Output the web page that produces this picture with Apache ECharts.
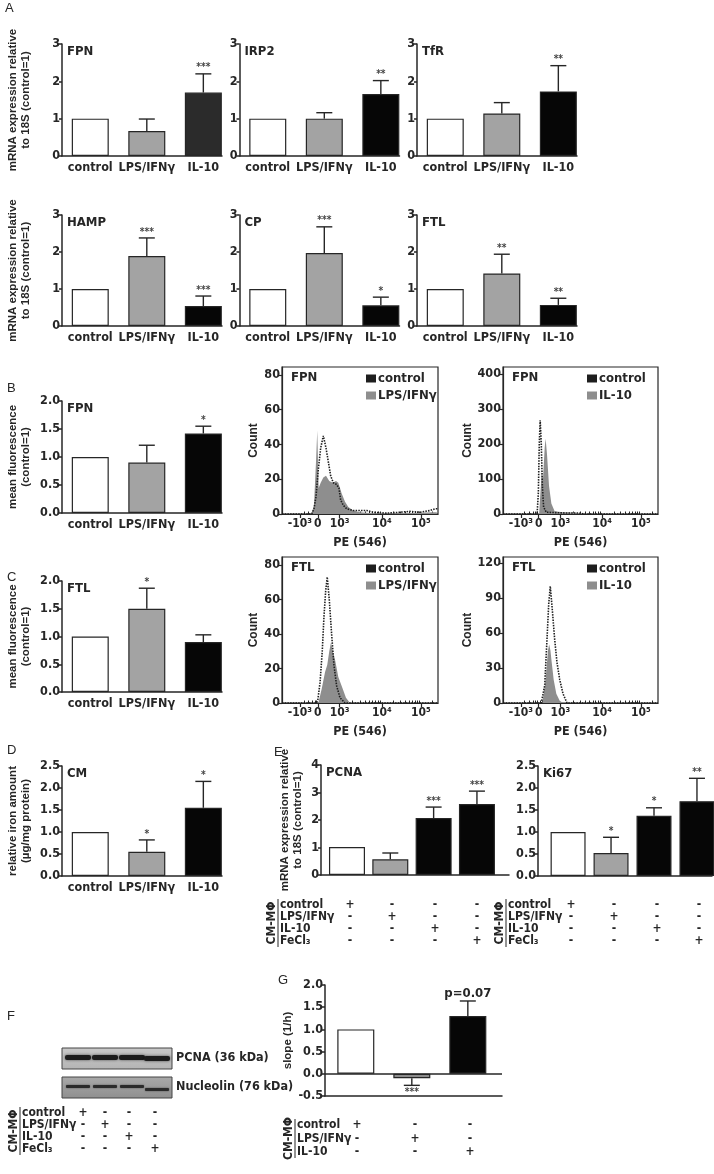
<!DOCTYPE html>
<html><head><meta charset="utf-8">
<script src="https://cdn.jsdelivr.net/npm/echarts@6/dist/echarts.min.js"></script>
<style>html,body{margin:0;padding:0;background:#fff}#c{width:714px;height:1174px}</style>
</head><body><div id="c"></div>
<script>
// ---------------- DATA ----------------
const groups3 = ['control', 'LPS/IFNγ', 'IL-10'];
// Panel A (mRNA relative to 18S)
const fpnMrna = [1.0, 0.67, 1.70],  fpnMrnaErr = [0, 0.32, 0.50],  fpnMrnaStars = ['', '', '***'];
const irp2Mrna = [1.0, 1.00, 1.66], irp2MrnaErr = [0, 0.16, 0.36], irp2MrnaStars = ['', '', '**'];
const tfrMrna = [1.0, 1.14, 1.73],  tfrMrnaErr = [0, 0.29, 0.69],  tfrMrnaStars = ['', '', '**'];
const hampMrna = [1.0, 1.89, 0.54], hampMrnaErr = [0, 0.49, 0.27], hampMrnaStars = ['', '***', '***'];
const cpMrna = [1.0, 1.97, 0.56],   cpMrnaErr = [0, 0.71, 0.22],   cpMrnaStars = ['', '***', '*'];
const ftlMrna = [1.0, 1.42, 0.57],  ftlMrnaErr = [0, 0.52, 0.18],  ftlMrnaStars = ['', '**', '**'];
// Panel B / C (mean fluorescence)
const fpnMfi = [1.0, 0.90, 1.42], fpnMfiErr = [0, 0.31, 0.13], fpnMfiStars = ['', '', '*'];
const ftlMfi = [1.0, 1.50, 0.90], ftlMfiErr = [0, 0.37, 0.13], ftlMfiStars = ['', '*', ''];
// Panel D (relative iron amount)
const ironCM = [1.0, 0.55, 1.55], ironCMErr = [0, 0.27, 0.60], ironCMStars = ['', '*', '*'];
// Panel E
const pcnaMrna = [1.02, 0.57, 2.07, 2.58], pcnaMrnaErr = [0, 0.23, 0.40, 0.47], pcnaMrnaStars = ['', '', '***', '***'];
const ki67Mrna = [1.0, 0.52, 1.37, 1.70],  ki67MrnaErr = [0, 0.36, 0.18, 0.52],  ki67MrnaStars = ['', '*', '*', '**'];
// Panel G
const slopeG = [1.0, -0.10, 1.30], slopeGErr = [0, -0.16, 0.34], slopeGStars = ['', '***', 'p=0.07'];
// Tables
const tableRows4 = ['control', 'LPS/IFNγ', 'IL-10', 'FeCl₃'];
const tableMarks4 = [['+','-','-','-'],['-','+','-','-'],['-','-','+','-'],['-','-','-','+']];
const tableRows3 = ['control', 'LPS/IFNγ', 'IL-10'];
const tableMarks3 = [['+','-','-'],['-','+','-'],['-','-','+']];
// Flow cytometry histograms (x in display channel 0-100, y = count)
const flowTickPos = [11.5, 23, 37, 64, 89];
const flowTickLabels = ['-10³', '0', '10³', '10⁴', '10⁵'];
const histFpnLpsControl = [[0,0],[19,0],[20.5,3],[21.8,10],[23.2,25],[24.8,38],[26.5,45],[28.2,38],[29.7,30],[31.2,22],[32.9,18],[35,17],[36.5,15],[37.6,8],[39.3,5],[41.5,3],[45.7,2],[50,2],[54.3,2],[58.5,1],[67,0.5],[75.6,1],[82,1.5],[88.5,1],[94.9,2],[98,3],[100,3]];
const histFpnLps = [[19,0],[20.5,5],[21.8,30],[22.6,48],[23.5,15],[24.8,18],[26.5,21],[28.2,22],[30.3,19],[32.5,18],[34.6,19],[36.1,18],[38.2,12],[40.4,7],[42.5,4],[45.7,2],[50,1],[58,0.5],[80,0.5],[97,1],[100,1]];
const histFpnIl10Control = [[0,0],[22,0],[22.8,60],[23.4,200],[24,268],[24.7,200],[25.4,80],[26.2,20],[27.9,5],[29,3],[40,3],[49,3],[52,0],[100,0]];
const histFpnIl10 = [[23.3,0],[25,120],[25.8,100],[26.9,190],[27.5,215],[28.4,170],[29.7,80],[31.2,30],[33.3,8],[38.7,5],[45,4],[51.6,1],[54,0]];
const histFtlLpsControl = [[0,0],[22.2,0],[23,2],[24.4,12],[25.8,30],[26.9,50],[28,65],[29,73],[30.3,60],[31.8,40],[33.3,22],[35,10],[37.2,3],[40.4,0],[100,0]];
const histFtlLps = [[23.3,0],[25.4,8],[27.6,18],[29,22],[30.3,30],[31.4,35],[32.5,30],[34,25],[36.1,15],[38.2,10],[41,3],[43.6,0]];
const histFtlIl10Control = [[0,0],[24.7,0],[26.9,15],[28.4,55],[29.5,85],[30.5,100],[31.8,80],[33.3,55],[34.8,35],[36.6,20],[38.7,8],[41.3,0],[100,0]];
const histFtlIl10 = [[25.4,0],[27.5,20],[29,45],[29.8,50],[30.6,45],[31.4,35],[32.7,20],[34.4,8],[36.6,2],[38.7,0]];

// ---------------- STYLE ----------------
const NARROW = "'Liberation Sans Narrow','Arial Narrow','DejaVu Sans Condensed',sans-serif";
const WIDE = "'Liberation Sans',Arial,sans-serif";
const INK = '#262626';
const WHITE = '#ffffff', GREY = '#a3a3a3', BLACK = '#060606';

const grids = [], xAxes = [], yAxes = [], series = [], titles = [], graphics = [], legends = [];

function errRenderer(stars) {
  return function (params, api) {
    const x = api.value(0), v = api.value(1), e = api.value(2);
    const star = stars[params.dataIndex];
    const ch = [];
    const p0 = api.coord([x, v]), p1 = api.coord([x, e]);
    if (e !== v) {
      ch.push({type: 'line', shape: {x1: p0[0], y1: p0[1], x2: p1[0], y2: p1[1]}, style: {stroke: INK, lineWidth: 1.4}});
      ch.push({type: 'line', shape: {x1: p1[0] - 8, y1: p1[1], x2: p1[0] + 8, y2: p1[1]}, style: {stroke: INK, lineWidth: 1.4}});
    }
    if (star) {
      const up = e >= v;
      const big = star.length > 3;
      ch.push({type: 'text', style: {text: star, x: p1[0], y: p1[1] + (up ? -1 : 2), align: 'center',
        verticalAlign: up ? 'bottom' : 'top', fill: big ? INK : '#444',
        font: big ? `bold 13px ${NARROW}` : `bold 10px ${NARROW}`}});
    }
    return {type: 'group', children: ch};
  };
}

function barPanel(o) {
  const gi = grids.length;
  grids.push({left: o.left, top: o.top, width: o.width, height: o.height});
  xAxes.push({type: 'value', gridIndex: gi, min: o.xmin || 0, max: o.xmax,
    axisLine: {onZero: false, lineStyle: {color: INK, width: 1.5}},
    axisTick: {show: false}, splitLine: {show: false},
    axisLabel: o.cats ? {customValues: o.cats.map((_, i) => i + 0.5), formatter: v => o.cats[Math.floor(v)],
      margin: 5, color: INK, fontFamily: NARROW, fontWeight: 'bold', fontSize: 12.5} : {show: false}});
  const ya = {type: 'value', gridIndex: gi, min: o.ymin || 0, max: o.ymax, interval: o.interval,
    axisLine: {show: true, onZero: false, lineStyle: {color: INK, width: 1.5}},
    axisTick: {show: true, length: 3, lineStyle: {color: INK, width: 1.5}},
    axisLabel: {margin: 2, color: INK, fontFamily: NARROW, fontWeight: 'bold', fontSize: 12.5,
      formatter: o.dec ? (v => v.toFixed(1)) : (v => String(v))},
    splitLine: {show: false}};
  if (o.yname) Object.assign(ya, {name: o.yname, nameLocation: 'middle', nameGap: o.nameGap, nameRotate: 90,
    nameTextStyle: {fontFamily: WIDE, fontWeight: 'bold', fontSize: 11.5, color: INK, lineHeight: 13}});
  yAxes.push(ya);
  const bar = {type: 'bar', xAxisIndex: gi, yAxisIndex: gi, barWidth: o.barW || 37,
    data: o.vals.map((v, i) => ({value: [i + 0.5, v], itemStyle: {color: o.colors[i]}})),
    itemStyle: {borderColor: INK, borderWidth: 1.2}, silent: true, z: 2};
  if (o.zeroLine) bar.markLine = {silent: true, symbol: 'none', label: {show: false},
    lineStyle: {color: INK, width: 1.5, type: 'solid'}, data: [{yAxis: 0}]};
  series.push(bar);
  series.push({type: 'custom', xAxisIndex: gi, yAxisIndex: gi, z: 3, silent: true,
    data: o.vals.map((v, i) => [i + 0.5, v, v + o.err[i]]), renderItem: errRenderer(o.stars)});
  if (o.title) titles.push({text: o.title, left: o.left + 5, top: o.top + 1, padding: 0,
    textStyle: {fontFamily: NARROW, fontWeight: 'bold', fontSize: 13, color: INK}});
}

// minor ticks for the biexponential axis (axis decoration)
const flowMinor = [];
[[37, 64], [64, 89]].forEach(([a, b]) => { for (let m = 2; m <= 9; m++) flowMinor.push(a + (b - a) * Math.log10(m)); });
flowMinor.push(89 + 25 * Math.log10(2));
[14, 17, 19.5, 21, 22, 24, 25, 27, 30].forEach(v => flowMinor.push(v));

function histPanel(o) {
  const gi = grids.length;
  grids.push({left: o.left, top: o.top, width: o.width, height: o.height, show: true,
    borderColor: INK, borderWidth: 1.2, backgroundColor: 'rgba(0,0,0,0)'});
  const xi = xAxes.length;
  xAxes.push({type: 'value', gridIndex: gi, min: 0, max: 100, splitLine: {show: false},
    axisLine: {onZero: false, lineStyle: {color: INK, width: 1.2}},
    axisTick: {customValues: flowTickPos, length: 4, lineStyle: {color: INK, width: 1.2}},
    axisLabel: {customValues: flowTickPos, formatter: v => flowTickLabels[flowTickPos.indexOf(v)],
      margin: 4, color: INK, fontFamily: NARROW, fontWeight: 'bold', fontSize: 12},
    name: 'PE (546)', nameLocation: 'middle', nameGap: 22,
    nameTextStyle: {fontFamily: NARROW, fontWeight: 'bold', fontSize: 12.5, color: INK}});
  xAxes.push({type: 'value', gridIndex: gi, min: 0, max: 100, splitLine: {show: false},
    axisLine: {show: false}, axisLabel: {show: false},
    axisTick: {customValues: flowMinor, length: 2.5, lineStyle: {color: INK, width: 1}}});
  const yi = yAxes.length;
  yAxes.push({type: 'value', gridIndex: gi, min: 0, max: o.ymax, interval: o.interval,
    axisLine: {show: true, onZero: false, lineStyle: {color: INK, width: 1.2}},
    axisTick: {show: true, length: 3, lineStyle: {color: INK, width: 1.2}},
    axisLabel: {margin: 2, color: INK, fontFamily: NARROW, fontWeight: 'bold', fontSize: 12.5, showMaxLabel: false},
    splitLine: {show: false}, name: 'Count', nameLocation: 'middle', nameGap: o.nameGap, nameRotate: 90,
    nameTextStyle: {fontFamily: WIDE, fontWeight: 'bold', fontSize: 12, color: INK}});
  series.push({type: 'line', name: o.treatName, xAxisIndex: xi, yAxisIndex: yi, data: o.treat, color: '#8e8e8e',
    showSymbol: false, symbol: 'none', lineStyle: {width: 0}, areaStyle: {color: '#8e8e8e', opacity: 1}, z: 2, silent: true});
  series.push({type: 'line', name: 'control', xAxisIndex: xi, yAxisIndex: yi, data: o.ctrl, color: '#1e1e1e',
    showSymbol: false, symbol: 'none', lineStyle: {width: 1.6, type: [1.5, 1.2], color: '#1e1e1e'}, z: 3, silent: true});
  titles.push({text: o.title, left: o.left + 9, top: o.top + 4, padding: 0,
    textStyle: {fontFamily: NARROW, fontWeight: 'bold', fontSize: 13, color: INK}});
  legends.push({data: ['control', o.treatName], left: o.left + 84, top: o.top + 5, orient: 'vertical',
    icon: 'rect', itemWidth: 10, itemHeight: 8, itemGap: 4, selectedMode: false, padding: 0,
    textStyle: {fontFamily: NARROW, fontWeight: 'bold', fontSize: 13, color: INK, padding: [0, 0, 0, -3]}});
}

function table(o) {
  const n = o.rows.length;
  const font = `bold 12px ${NARROW}`;
  graphics.push({type: 'text', x: o.x, y: o.y0 + (n - 1) * o.dy / 2, rotation: Math.PI / 2,
    style: {text: 'CM-MΦ', align: 'center', verticalAlign: 'middle', font: font, fill: INK}});
  graphics.push({type: 'line', shape: {x1: o.x + 6, y1: o.y0 - 6, x2: o.x + 6, y2: o.y0 + (n - 1) * o.dy + 6},
    style: {stroke: INK, lineWidth: 1}});
  o.rows.forEach((r, i) => {
    graphics.push({type: 'text', x: o.x + 8, y: o.y0 + i * o.dy, style: {text: r, align: 'left', verticalAlign: 'middle', font: font, fill: INK}});
    o.marks[i].forEach((m, j) => graphics.push({type: 'text', x: o.cols[j], y: o.y0 + i * o.dy,
      style: {text: m, align: 'center', verticalAlign: 'middle', font: font, fill: INK}}));
  });
}

// ---------------- PANELS ----------------
const colsA = [WHITE, GREY, BLACK];
const yTitleMrna = 'mRNA expression relative\nto 18S (control=1)';
const aLefts = [62, 239.5, 417];
barPanel({left: aLefts[0], top: 44, width: 160, height: 112, xmax: 2.83, ymax: 3, interval: 1, cats: groups3,
  vals: fpnMrna, err: fpnMrnaErr, stars: fpnMrnaStars, colors: [WHITE, GREY, '#2b2b2b'], title: 'FPN', yname: yTitleMrna, nameGap: 30});
barPanel({left: aLefts[1], top: 44, width: 160, height: 112, xmax: 2.83, ymax: 3, interval: 1, cats: groups3,
  vals: irp2Mrna, err: irp2MrnaErr, stars: irp2MrnaStars, colors: colsA, title: 'IRP2'});
barPanel({left: aLefts[2], top: 44, width: 160, height: 112, xmax: 2.83, ymax: 3, interval: 1, cats: groups3,
  vals: tfrMrna, err: tfrMrnaErr, stars: tfrMrnaStars, colors: colsA, title: 'TfR'});
barPanel({left: aLefts[0], top: 215, width: 160, height: 111, xmax: 2.83, ymax: 3, interval: 1, cats: groups3,
  vals: hampMrna, err: hampMrnaErr, stars: hampMrnaStars, colors: colsA, title: 'HAMP', yname: yTitleMrna, nameGap: 30});
barPanel({left: aLefts[1], top: 215, width: 160, height: 111, xmax: 2.83, ymax: 3, interval: 1, cats: groups3,
  vals: cpMrna, err: cpMrnaErr, stars: cpMrnaStars, colors: colsA, title: 'CP'});
barPanel({left: aLefts[2], top: 215, width: 160, height: 111, xmax: 2.83, ymax: 3, interval: 1, cats: groups3,
  vals: ftlMrna, err: ftlMrnaErr, stars: ftlMrnaStars, colors: colsA, title: 'FTL'});

barPanel({left: 62, top: 401, width: 160, height: 112, xmax: 2.83, ymax: 2, interval: 0.5, dec: true, cats: groups3,
  vals: fpnMfi, err: fpnMfiErr, stars: fpnMfiStars, colors: colsA, title: 'FPN', yname: 'mean fluorescence\n(control=1)', nameGap: 30});
barPanel({left: 62, top: 581, width: 160, height: 111, xmax: 2.83, ymax: 2, interval: 0.5, dec: true, cats: groups3,
  vals: ftlMfi, err: ftlMfiErr, stars: ftlMfiStars, colors: colsA, title: 'FTL', yname: 'mean fluorescence\n(control=1)', nameGap: 30});
barPanel({left: 62, top: 766, width: 160, height: 110, xmax: 2.83, ymax: 2.5, interval: 0.5, dec: true, cats: groups3,
  vals: ironCM, err: ironCMErr, stars: ironCMStars, colors: colsA, title: 'CM', yname: 'relative iron amount\n(µg/mg protein)', nameGap: 30});

const colsE = [WHITE, GREY, BLACK, BLACK];
barPanel({left: 321, top: 765, width: 188, height: 110, xmin: -0.1, xmax: 4.24, ymax: 4, interval: 1, barW: 36,
  vals: pcnaMrna, err: pcnaMrnaErr, stars: pcnaMrnaStars, colors: colsE, title: 'PCNA', yname: yTitleMrna, nameGap: 17});
barPanel({left: 538, top: 766, width: 174, height: 110, xmin: -0.2, xmax: 3.85, ymax: 2.5, interval: 0.5, dec: true, barW: 35,
  vals: ki67Mrna, err: ki67MrnaErr, stars: ki67MrnaStars, colors: colsE, title: 'Ki67'});

barPanel({left: 325, top: 985, width: 177, height: 111, xmin: -0.05, xmax: 3.11, ymin: -0.5, ymax: 2, interval: 0.5, dec: true,
  vals: slopeG, err: slopeGErr, stars: slopeGStars, colors: [WHITE, '#8c8c8c', BLACK], yname: 'slope (1/h)', nameGap: 24, zeroLine: true});

histPanel({left: 282, top: 367, width: 156, height: 147, ymax: 84.6, interval: 20, title: 'FPN', treatName: 'LPS/IFNγ',
  ctrl: histFpnLpsControl, treat: histFpnLps, nameGap: 22});
histPanel({left: 503, top: 367, width: 155, height: 147, ymax: 420, interval: 100, title: 'FPN', treatName: 'IL-10',
  ctrl: histFpnIl10Control, treat: histFpnIl10, nameGap: 28});
histPanel({left: 282, top: 557, width: 156, height: 146, ymax: 84.6, interval: 20, title: 'FTL', treatName: 'LPS/IFNγ',
  ctrl: histFtlLpsControl, treat: histFtlLps, nameGap: 22});
histPanel({left: 503, top: 557, width: 155, height: 146, ymax: 125, interval: 30, title: 'FTL', treatName: 'IL-10',
  ctrl: histFtlIl10Control, treat: histFtlIl10, nameGap: 28});

// tables
table({x: 272, y0: 905, dy: 12, rows: tableRows4, marks: tableMarks4, cols: [350, 392, 435, 477]});
table({x: 500, y0: 905, dy: 12, rows: tableRows4, marks: tableMarks4, cols: [571, 614, 657, 699]});
table({x: 14, y0: 1113, dy: 12, rows: tableRows4, marks: tableMarks4, cols: [83, 105, 129, 155]});
table({x: 289, y0: 1125, dy: 13.5, rows: tableRows3, marks: tableMarks3, cols: [357, 415, 470]});

// panel letters
[['A', 5, 8], ['B', 7, 388], ['C', 7, 577], ['D', 7, 750], ['E', 274, 752], ['F', 7, 1016], ['G', 278, 980]].forEach(([t, x, y]) =>
  graphics.push({type: 'text', x: x, y: y, style: {text: t, font: `13px ${WIDE}`, fill: INK, verticalAlign: 'middle'}}));

// Western blot panel F (image-like decoration)
const laneX = [78, 105, 132, 157];
graphics.push({type: 'rect', shape: {x: 62, y: 1048, width: 110, height: 21},
  style: {fill: {type: 'linear', x: 0, y: 0, x2: 0, y2: 1, colorStops: [{offset: 0, color: '#c9c9c9'}, {offset: 1, color: '#b4b4b4'}]}, stroke: '#444', lineWidth: 1}});
laneX.forEach((x, i) => graphics.push({type: 'rect', shape: {x: x - 13, y: 1055 + (i === 3 ? 1 : 0), width: 26, height: 5, r: 2},
  style: {fill: '#1c1c1c', shadowBlur: 3, shadowColor: 'rgba(0,0,0,0.6)'}}));
graphics.push({type: 'rect', shape: {x: 62, y: 1077, width: 110, height: 21},
  style: {fill: {type: 'linear', x: 0, y: 0, x2: 0, y2: 1, colorStops: [{offset: 0, color: '#a9a9a9'}, {offset: 1, color: '#8f8f8f'}]}, stroke: '#444', lineWidth: 1}});
laneX.forEach((x, i) => graphics.push({type: 'rect', shape: {x: x - 12, y: 1085 + (i === 3 ? 3 : 0), width: 24, height: 3, r: 1},
  style: {fill: '#2a2a2a', shadowBlur: 2, shadowColor: 'rgba(0,0,0,0.5)'}}));
graphics.push({type: 'text', x: 176, y: 1058, style: {text: 'PCNA (36 kDa)', font: `bold 12.5px ${NARROW}`, fill: INK, verticalAlign: 'middle'}});
graphics.push({type: 'text', x: 176, y: 1087, style: {text: 'Nucleolin (76 kDa)', font: `bold 12.5px ${NARROW}`, fill: INK, verticalAlign: 'middle'}});

const chart = echarts.init(document.getElementById('c'), null, {renderer: 'canvas'});
chart.setOption({
  animation: false, backgroundColor: '#fff',
  grid: grids, xAxis: xAxes, yAxis: yAxes, series: series, title: titles, legend: legends, graphic: graphics
});
</script></body></html>
